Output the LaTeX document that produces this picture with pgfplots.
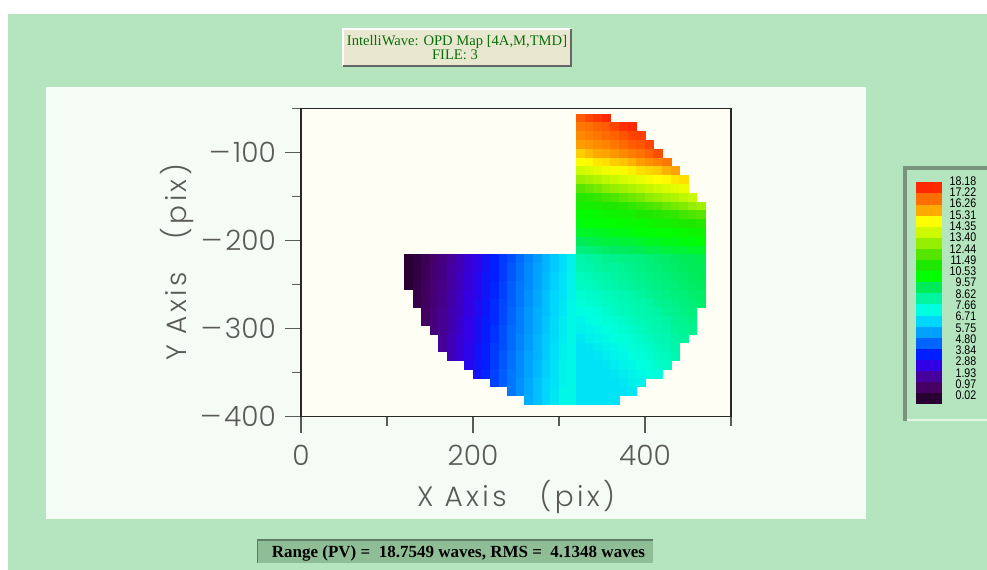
\documentclass[border=0pt]{standalone}
\usepackage{fontspec}
\usepackage{graphicx}
\usepackage{pgfplots}
\pgfplotsset{compat=1.18}
\setmainfont{Liberation Serif}
\newfontfamily\thinfont{Poppins Light}
\newfontfamily\thinlabel{Poppins Light}[LetterSpace=12]
\newfontfamily\barfont{Liberation Sans}
\definecolor{bggreen}{RGB}{180,229,190}
\definecolor{panelc}{RGB}{245,252,245}
\definecolor{plotbg}{RGB}{254,254,245}
\definecolor{titlefill}{RGB}{232,232,208}
\definecolor{titletext}{RGB}{10,110,10}
\definecolor{rangefill}{RGB}{143,190,150}
\definecolor{rangedark}{RGB}{95,125,100}
\definecolor{framedark}{RGB}{120,148,125}
\definecolor{framelight}{RGB}{225,248,230}
\definecolor{axisdark}{RGB}{40,40,40}
\definecolor{tickgray}{RGB}{90,90,90}
\definecolor{c0}{RGB}{40,0,50}
\definecolor{c1}{RGB}{70,0,100}
\definecolor{c2}{RGB}{70,0,160}
\definecolor{c3}{RGB}{50,0,230}
\definecolor{c4}{RGB}{0,30,255}
\definecolor{c5}{RGB}{0,100,255}
\definecolor{c6}{RGB}{0,160,255}
\definecolor{c7}{RGB}{0,215,255}
\definecolor{c8}{RGB}{0,255,225}
\definecolor{c9}{RGB}{0,245,160}
\definecolor{c10}{RGB}{0,235,90}
\definecolor{c11}{RGB}{0,255,0}
\definecolor{c12}{RGB}{30,232,0}
\definecolor{c13}{RGB}{85,230,0}
\definecolor{c14}{RGB}{150,238,0}
\definecolor{c15}{RGB}{205,250,0}
\definecolor{c16}{RGB}{255,255,0}
\definecolor{c17}{RGB}{255,170,0}
\definecolor{c18}{RGB}{255,110,0}
\definecolor{c19}{RGB}{255,40,0}
\begin{document}
\begin{tikzpicture}
\useasboundingbox (0,0) rectangle (987bp,-570bp);
\fill[white] (0,0) rectangle (987bp,-570bp);
\fill[bggreen] (8bp,-14bp) rectangle (987bp,-570bp);
\fill[panelc] (46bp,-87bp) rectangle (866bp,-519bp);
% title box
\fill[titlefill] (343bp,-29bp) rectangle (571bp,-66bp);
\draw[white, line width=1.2bp] (343bp,-66bp) -- (343bp,-29bp) -- (571bp,-29bp);
\draw[black!60, line width=1.6bp] (571bp,-29bp) -- (571bp,-66bp) -- (343bp,-66bp);
\node[anchor=base, text=titletext, inner sep=0pt, font=\fontsize{14.6bp}{16bp}\selectfont] at (457bp,-45bp) {IntelliWave: OPD Map [4A,M,TMD]};
\node[anchor=base, text=titletext, inner sep=0pt, font=\fontsize{14.6bp}{16bp}\selectfont] at (455bp,-59.5bp) {FILE: 3};
% colorbar frame
\draw[framedark, line width=4bp] (905bp,-421bp) -- (905bp,-168bp) -- (990bp,-168bp);
\draw[framelight, line width=2bp] (907bp,-420bp) -- (990bp,-420bp);
\foreach \col/\lab [count=\i from 0] in {c19/18.18,c18/17.22,c17/16.26,c16/15.31,c15/14.35,c14/13.40,c13/12.44,c12/11.49,c11/10.53,c10/9.57,c9/8.62,c8/7.66,c7/6.71,c6/5.75,c5/4.80,c4/3.84,c3/2.88,c2/1.93,c1/0.97,c0/0.02}{
  \pgfmathsetmacro\yt{-182.3-11.1*\i}
  \pgfmathsetmacro\yb{\yt-11.2}
  \pgfmathsetmacro\yl{-181-11.29*\i}
  \fill[fill=\col] (915.7bp,\yt bp) rectangle (942.3bp,\yb bp);
  \node[anchor=east, inner sep=0pt, font=\barfont\fontsize{12.5bp}{13bp}\selectfont] at (976.5bp,\yl bp) {\scalebox{0.85}[1]{\lab}};
}
% range box
\fill[rangefill] (257.3bp,-540bp) rectangle (653.3bp,-562.7bp);
\draw[rangedark, line width=1.5bp] (257.3bp,-562.7bp) -- (257.3bp,-540bp) -- (653.3bp,-540bp);
\node[anchor=base west, inner sep=0pt, font=\bfseries\fontsize{17bp}{18bp}\selectfont] at (271.7bp,-557bp) {Range (PV) =\ \ 18.7549 waves, RMS =\ \ 4.1348 waves};
\begin{axis}[
  at={(301bp,-416.7bp)}, anchor=south west,
  scale only axis, width=430bp, height=308.4bp,
  xmin=0, xmax=500, ymin=-400, ymax=-50,
  axis background/.style={fill=plotbg},
  axis line style={draw=axisdark, line width=1.4bp},
  tick style={draw=tickgray, line width=1.4bp},
  tick align=outside,
  xtick pos=bottom, ytick pos=left,
  xtick={0,200,400}, minor xtick={100,300,500},
  ytick={-400,-300,-200,-100}, minor ytick={-350,-250,-150,-50},
  major tick length=16bp, minor tick length=9bp,
  xticklabels={0,200,400},
  yticklabels={\scalebox{1.2}[1]{–}\hspace{2.5bp}400,\scalebox{1.2}[1]{–}\hspace{2.5bp}300,\scalebox{1.2}[1]{–}\hspace{2.5bp}200,\scalebox{1.2}[1]{–}\hspace{2.5bp}100},
  ticklabel style={font=\thinfont\fontsize{28bp}{30bp}\selectfont, text=tickgray, inner sep=0pt},
  xticklabel style={anchor=north, yshift=-12bp},
  yticklabel style={anchor=east, xshift=-9bp},
  point meta min=0.2, point meta max=18.4,
  colormap={opd}{rgb255=(40,0,50) rgb255=(70,0,100) rgb255=(70,0,160) rgb255=(50,0,230) rgb255=(0,30,255) rgb255=(0,100,255) rgb255=(0,160,255) rgb255=(0,215,255) rgb255=(0,255,225) rgb255=(0,245,160) rgb255=(0,235,90) rgb255=(0,255,0) rgb255=(30,232,0) rgb255=(85,230,0) rgb255=(150,238,0) rgb255=(205,250,0) rgb255=(255,255,0) rgb255=(255,170,0) rgb255=(255,110,0) rgb255=(255,40,0)},
]
\addplot[scatter, only marks, mark=square*, mark size=4.3pt, scatter src=explicit,
  scatter/use mapped color={draw=mapped color, fill=mapped color}, mark options={line width=0.4pt}]
  table[meta=v, row sep=\\] {
x y v\\
325 -61 17.7\\335 -61 18.0\\345 -61 18.2\\355 -61 18.5\\
325 -71 17.3\\335 -71 17.4\\345 -71 17.6\\355 -71 17.7\\365 -71 18.0\\375 -71 18.3\\385 -71 18.5\\
325 -81 17.0\\335 -81 17.2\\345 -81 17.3\\355 -81 17.5\\365 -81 17.6\\375 -81 17.8\\385 -81 18.0\\395 -81 18.1\\
325 -91 16.7\\335 -91 16.8\\345 -91 17.0\\355 -91 17.1\\365 -91 17.3\\375 -91 17.5\\385 -91 17.7\\395 -91 17.8\\405 -91 18.0\\
325 -101 16.1\\335 -101 16.3\\345 -101 16.5\\355 -101 16.6\\365 -101 16.8\\375 -101 17.0\\385 -101 17.2\\395 -101 17.4\\405 -101 17.6\\415 -101 17.9\\
325 -111 15.5\\335 -111 15.6\\345 -111 15.8\\355 -111 15.9\\365 -111 16.1\\375 -111 16.2\\385 -111 16.4\\395 -111 16.7\\405 -111 16.9\\415 -111 17.1\\425 -111 17.3\\
325 -121 14.6\\335 -121 14.8\\345 -121 15.0\\355 -121 15.2\\365 -121 15.4\\375 -121 15.6\\385 -121 15.7\\395 -121 15.9\\405 -121 16.0\\415 -121 16.1\\425 -121 16.4\\435 -121 16.6\\
325 -131 13.7\\335 -131 13.9\\345 -131 14.1\\355 -131 14.3\\365 -131 14.5\\375 -131 14.7\\385 -131 14.9\\395 -131 15.1\\405 -131 15.3\\415 -131 15.5\\425 -131 15.6\\435 -131 15.8\\445 -131 15.9\\
325 -141 12.7\\335 -141 12.9\\345 -141 13.1\\355 -141 13.4\\365 -141 13.6\\375 -141 13.8\\385 -141 14.0\\395 -141 14.2\\405 -141 14.4\\415 -141 14.6\\425 -141 14.8\\435 -141 15.0\\445 -141 15.2\\
325 -151 11.8\\335 -151 11.9\\345 -151 12.1\\355 -151 12.3\\365 -151 12.5\\375 -151 12.8\\385 -151 13.0\\395 -151 13.2\\405 -151 13.5\\415 -151 13.7\\425 -151 13.9\\435 -151 14.1\\445 -151 14.3\\455 -151 14.5\\
325 -161 11.3\\335 -161 11.4\\345 -161 11.5\\355 -161 11.6\\365 -161 11.7\\375 -161 11.8\\385 -161 12.0\\395 -161 12.2\\405 -161 12.4\\415 -161 12.6\\425 -161 12.9\\435 -161 13.1\\445 -161 13.3\\455 -161 13.6\\465 -161 13.8\\
325 -171 10.9\\335 -171 10.9\\345 -171 11.0\\355 -171 11.1\\365 -171 11.2\\375 -171 11.3\\385 -171 11.4\\395 -171 11.6\\405 -171 11.7\\415 -171 11.8\\425 -171 11.9\\435 -171 12.0\\445 -171 12.3\\455 -171 12.5\\465 -171 12.7\\
325 -181 10.6\\335 -181 10.7\\345 -181 10.7\\355 -181 10.8\\365 -181 10.8\\375 -181 10.9\\385 -181 11.0\\395 -181 11.0\\405 -181 11.1\\415 -181 11.3\\425 -181 11.4\\435 -181 11.5\\445 -181 11.6\\455 -181 11.7\\465 -181 11.8\\
325 -191 10.3\\335 -191 10.3\\345 -191 10.4\\355 -191 10.4\\365 -191 10.5\\375 -191 10.5\\385 -191 10.6\\395 -191 10.7\\405 -191 10.7\\415 -191 10.8\\425 -191 10.8\\435 -191 10.9\\445 -191 11.0\\455 -191 11.1\\465 -191 11.2\\
325 -201 9.8\\335 -201 9.9\\345 -201 10.0\\355 -201 10.1\\365 -201 10.1\\375 -201 10.2\\385 -201 10.2\\395 -201 10.3\\405 -201 10.4\\415 -201 10.4\\425 -201 10.5\\435 -201 10.5\\445 -201 10.6\\455 -201 10.6\\465 -201 10.7\\
325 -211 9.3\\335 -211 9.4\\345 -211 9.5\\355 -211 9.6\\365 -211 9.7\\375 -211 9.7\\385 -211 9.8\\395 -211 9.9\\405 -211 10.0\\415 -211 10.0\\425 -211 10.1\\435 -211 10.2\\445 -211 10.2\\455 -211 10.3\\465 -211 10.3\\
125 -221 0.1\\135 -221 0.5\\145 -221 0.8\\155 -221 1.2\\165 -221 1.6\\175 -221 2.0\\185 -221 2.4\\195 -221 2.8\\205 -221 3.2\\215 -221 3.6\\225 -221 4.0\\235 -221 4.4\\245 -221 4.7\\255 -221 5.1\\265 -221 5.5\\275 -221 5.9\\285 -221 6.3\\295 -221 6.7\\305 -221 7.1\\315 -221 7.5\\
325 -221 8.7\\335 -221 8.8\\345 -221 8.9\\355 -221 9.0\\365 -221 9.1\\375 -221 9.2\\385 -221 9.2\\395 -221 9.3\\405 -221 9.4\\415 -221 9.5\\425 -221 9.6\\435 -221 9.7\\445 -221 9.8\\455 -221 9.8\\465 -221 9.9\\
125 -231 0.1\\135 -231 0.5\\145 -231 0.9\\155 -231 1.3\\165 -231 1.7\\175 -231 2.1\\185 -231 2.4\\195 -231 2.8\\205 -231 3.2\\215 -231 3.6\\225 -231 4.0\\235 -231 4.4\\245 -231 4.8\\255 -231 5.2\\265 -231 5.6\\275 -231 6.0\\285 -231 6.3\\295 -231 6.7\\305 -231 7.1\\315 -231 7.5\\
325 -231 8.6\\335 -231 8.7\\345 -231 8.8\\355 -231 8.9\\365 -231 8.9\\375 -231 9.0\\385 -231 9.1\\395 -231 9.2\\405 -231 9.3\\415 -231 9.4\\425 -231 9.5\\435 -231 9.6\\445 -231 9.7\\455 -231 9.8\\465 -231 9.8\\
125 -241 0.1\\135 -241 0.5\\145 -241 0.9\\155 -241 1.3\\165 -241 1.7\\175 -241 2.1\\185 -241 2.5\\195 -241 2.9\\205 -241 3.3\\215 -241 3.7\\225 -241 4.0\\235 -241 4.4\\245 -241 4.8\\255 -241 5.2\\265 -241 5.6\\275 -241 6.0\\285 -241 6.4\\295 -241 6.8\\305 -241 7.2\\315 -241 7.6\\
325 -241 8.4\\335 -241 8.5\\345 -241 8.6\\355 -241 8.7\\365 -241 8.8\\375 -241 8.9\\385 -241 9.0\\395 -241 9.1\\405 -241 9.2\\415 -241 9.3\\425 -241 9.4\\435 -241 9.5\\445 -241 9.6\\455 -241 9.7\\465 -241 9.8\\
125 -251 0.2\\135 -251 0.6\\145 -251 1.0\\155 -251 1.4\\165 -251 1.7\\175 -251 2.1\\185 -251 2.5\\195 -251 2.9\\205 -251 3.3\\215 -251 3.7\\225 -251 4.1\\235 -251 4.5\\245 -251 4.9\\255 -251 5.3\\265 -251 5.6\\275 -251 6.0\\285 -251 6.4\\295 -251 6.8\\305 -251 7.2\\315 -251 7.6\\
325 -251 8.3\\335 -251 8.4\\345 -251 8.5\\355 -251 8.6\\365 -251 8.7\\375 -251 8.8\\385 -251 8.9\\395 -251 9.0\\405 -251 9.1\\415 -251 9.2\\425 -251 9.3\\435 -251 9.4\\445 -251 9.5\\455 -251 9.6\\465 -251 9.7\\
135 -261 0.6\\145 -261 1.0\\155 -261 1.4\\165 -261 1.8\\175 -261 2.2\\185 -261 2.6\\195 -261 3.0\\205 -261 3.3\\215 -261 3.7\\225 -261 4.1\\235 -261 4.5\\245 -261 4.9\\255 -261 5.3\\265 -261 5.7\\275 -261 6.1\\285 -261 6.5\\295 -261 6.9\\305 -261 7.2\\315 -261 7.6\\
325 -261 8.1\\335 -261 8.2\\345 -261 8.3\\355 -261 8.4\\365 -261 8.5\\375 -261 8.6\\385 -261 8.7\\395 -261 8.8\\405 -261 9.0\\415 -261 9.1\\425 -261 9.2\\435 -261 9.3\\445 -261 9.4\\455 -261 9.5\\465 -261 9.6\\
135 -271 0.7\\145 -271 1.0\\155 -271 1.4\\165 -271 1.8\\175 -271 2.2\\185 -271 2.6\\195 -271 3.0\\205 -271 3.4\\215 -271 3.8\\225 -271 4.2\\235 -271 4.6\\245 -271 4.9\\255 -271 5.3\\265 -271 5.7\\275 -271 6.1\\285 -271 6.5\\295 -271 6.9\\305 -271 7.3\\315 -271 7.7\\
325 -271 8.0\\335 -271 8.1\\345 -271 8.2\\355 -271 8.3\\365 -271 8.4\\375 -271 8.5\\385 -271 8.6\\395 -271 8.7\\405 -271 8.8\\415 -271 9.0\\425 -271 9.1\\435 -271 9.2\\445 -271 9.3\\455 -271 9.4\\465 -271 9.5\\
145 -281 1.1\\155 -281 1.5\\165 -281 1.9\\175 -281 2.3\\185 -281 2.6\\195 -281 3.0\\205 -281 3.4\\215 -281 3.8\\225 -281 4.2\\235 -281 4.6\\245 -281 5.0\\255 -281 5.4\\265 -281 5.8\\275 -281 6.2\\285 -281 6.5\\295 -281 6.9\\305 -281 7.3\\315 -281 7.7\\
325 -281 7.8\\335 -281 7.9\\345 -281 8.0\\355 -281 8.1\\365 -281 8.3\\375 -281 8.4\\385 -281 8.5\\395 -281 8.6\\405 -281 8.7\\415 -281 8.8\\425 -281 9.0\\435 -281 9.1\\445 -281 9.2\\455 -281 9.3\\
145 -291 1.1\\155 -291 1.5\\165 -291 1.9\\175 -291 2.3\\185 -291 2.7\\195 -291 3.1\\205 -291 3.5\\215 -291 3.9\\225 -291 4.2\\235 -291 4.6\\245 -291 5.0\\255 -291 5.4\\265 -291 5.8\\275 -291 6.2\\285 -291 6.6\\295 -291 7.0\\305 -291 7.4\\315 -291 7.7\\
325 -291 7.6\\335 -291 7.8\\345 -291 7.9\\355 -291 8.0\\365 -291 8.1\\375 -291 8.2\\385 -291 8.4\\395 -291 8.5\\405 -291 8.6\\415 -291 8.7\\425 -291 8.8\\435 -291 9.0\\445 -291 9.1\\455 -291 9.2\\
155 -301 1.5\\165 -301 1.9\\175 -301 2.3\\185 -301 2.7\\195 -301 3.1\\205 -301 3.5\\215 -301 3.9\\225 -301 4.3\\235 -301 4.7\\245 -301 5.1\\255 -301 5.4\\265 -301 5.8\\275 -301 6.2\\285 -301 6.6\\295 -301 7.0\\305 -301 7.4\\315 -301 7.7\\
325 -301 7.5\\335 -301 7.6\\345 -301 7.7\\355 -301 7.9\\365 -301 8.0\\375 -301 8.1\\385 -301 8.2\\395 -301 8.4\\405 -301 8.5\\415 -301 8.6\\425 -301 8.7\\435 -301 8.9\\445 -301 9.0\\455 -301 9.1\\
165 -311 2.0\\175 -311 2.4\\185 -311 2.8\\195 -311 3.1\\205 -311 3.5\\215 -311 3.9\\225 -311 4.3\\235 -311 4.7\\245 -311 5.1\\255 -311 5.5\\265 -311 5.9\\275 -311 6.3\\285 -311 6.7\\295 -311 7.0\\305 -311 7.4\\315 -311 7.7\\
325 -311 7.3\\335 -311 7.5\\345 -311 7.6\\355 -311 7.7\\365 -311 7.9\\375 -311 8.0\\385 -311 8.1\\395 -311 8.2\\405 -311 8.4\\415 -311 8.5\\425 -311 8.6\\435 -311 8.8\\445 -311 8.9\\
165 -321 2.0\\175 -321 2.4\\185 -321 2.8\\195 -321 3.2\\205 -321 3.6\\215 -321 4.0\\225 -321 4.4\\235 -321 4.7\\245 -321 5.1\\255 -321 5.5\\265 -321 5.9\\275 -321 6.3\\285 -321 6.7\\295 -321 7.1\\305 -321 7.5\\315 -321 7.7\\
325 -321 7.2\\335 -321 7.3\\345 -321 7.4\\355 -321 7.6\\365 -321 7.7\\375 -321 7.8\\385 -321 8.0\\395 -321 8.1\\405 -321 8.2\\415 -321 8.4\\425 -321 8.5\\435 -321 8.7\\
175 -331 2.4\\185 -331 2.8\\195 -331 3.2\\205 -331 3.6\\215 -331 4.0\\225 -331 4.4\\235 -331 4.8\\245 -331 5.2\\255 -331 5.6\\265 -331 6.0\\275 -331 6.3\\285 -331 6.7\\295 -331 7.1\\305 -331 7.5\\315 -331 7.7\\
325 -331 7.2\\335 -331 7.2\\345 -331 7.3\\355 -331 7.4\\365 -331 7.6\\375 -331 7.7\\385 -331 7.9\\395 -331 8.0\\405 -331 8.1\\415 -331 8.3\\425 -331 8.4\\435 -331 8.6\\
195 -341 3.3\\205 -341 3.7\\215 -341 4.0\\225 -341 4.4\\235 -341 4.8\\245 -341 5.2\\255 -341 5.6\\265 -341 6.0\\275 -341 6.4\\285 -341 6.8\\295 -341 7.2\\305 -341 7.6\\315 -341 7.7\\
325 -341 7.2\\335 -341 7.2\\345 -341 7.2\\355 -341 7.3\\365 -341 7.4\\375 -341 7.6\\385 -341 7.7\\395 -341 7.9\\405 -341 8.0\\415 -341 8.2\\425 -341 8.3\\
205 -351 3.7\\215 -351 4.1\\225 -351 4.5\\235 -351 4.9\\245 -351 5.3\\255 -351 5.6\\265 -351 6.0\\275 -351 6.4\\285 -351 6.8\\295 -351 7.2\\305 -351 7.6\\315 -351 7.7\\
325 -351 7.2\\335 -351 7.2\\345 -351 7.2\\355 -351 7.2\\365 -351 7.3\\375 -351 7.4\\385 -351 7.6\\395 -351 7.7\\405 -351 7.9\\415 -351 8.0\\
225 -361 4.5\\235 -361 4.9\\245 -361 5.3\\255 -361 5.7\\265 -361 6.1\\275 -361 6.5\\285 -361 6.9\\295 -361 7.2\\305 -361 7.6\\315 -361 7.7\\
325 -361 7.2\\335 -361 7.2\\345 -361 7.2\\355 -361 7.2\\365 -361 7.2\\375 -361 7.3\\385 -361 7.5\\395 -361 7.6\\
245 -371 5.3\\255 -371 5.7\\265 -371 6.1\\275 -371 6.5\\285 -371 6.9\\295 -371 7.3\\305 -371 7.7\\315 -371 7.7\\
325 -371 7.2\\335 -371 7.2\\345 -371 7.2\\355 -371 7.2\\365 -371 7.2\\375 -371 7.2\\385 -371 7.3\\
265 -381 6.2\\275 -381 6.5\\285 -381 6.9\\295 -381 7.3\\305 -381 7.7\\315 -381 7.7\\
325 -381 7.2\\335 -381 7.2\\345 -381 7.2\\355 -381 7.2\\365 -381 7.2\\
};
\end{axis}
\node[anchor=base, text=tickgray, inner sep=0pt, font=\thinlabel\fontsize{28bp}{30bp}\selectfont] at (516bp,-506bp) {X Axis\ \ \ (pix)};
\node[anchor=base, rotate=90, text=tickgray, inner sep=0pt, font=\thinlabel\fontsize{28bp}{30bp}\selectfont] at (186bp,-262.5bp) {Y Axis\ \ \ (pix)};
\end{tikzpicture}
\end{document}
